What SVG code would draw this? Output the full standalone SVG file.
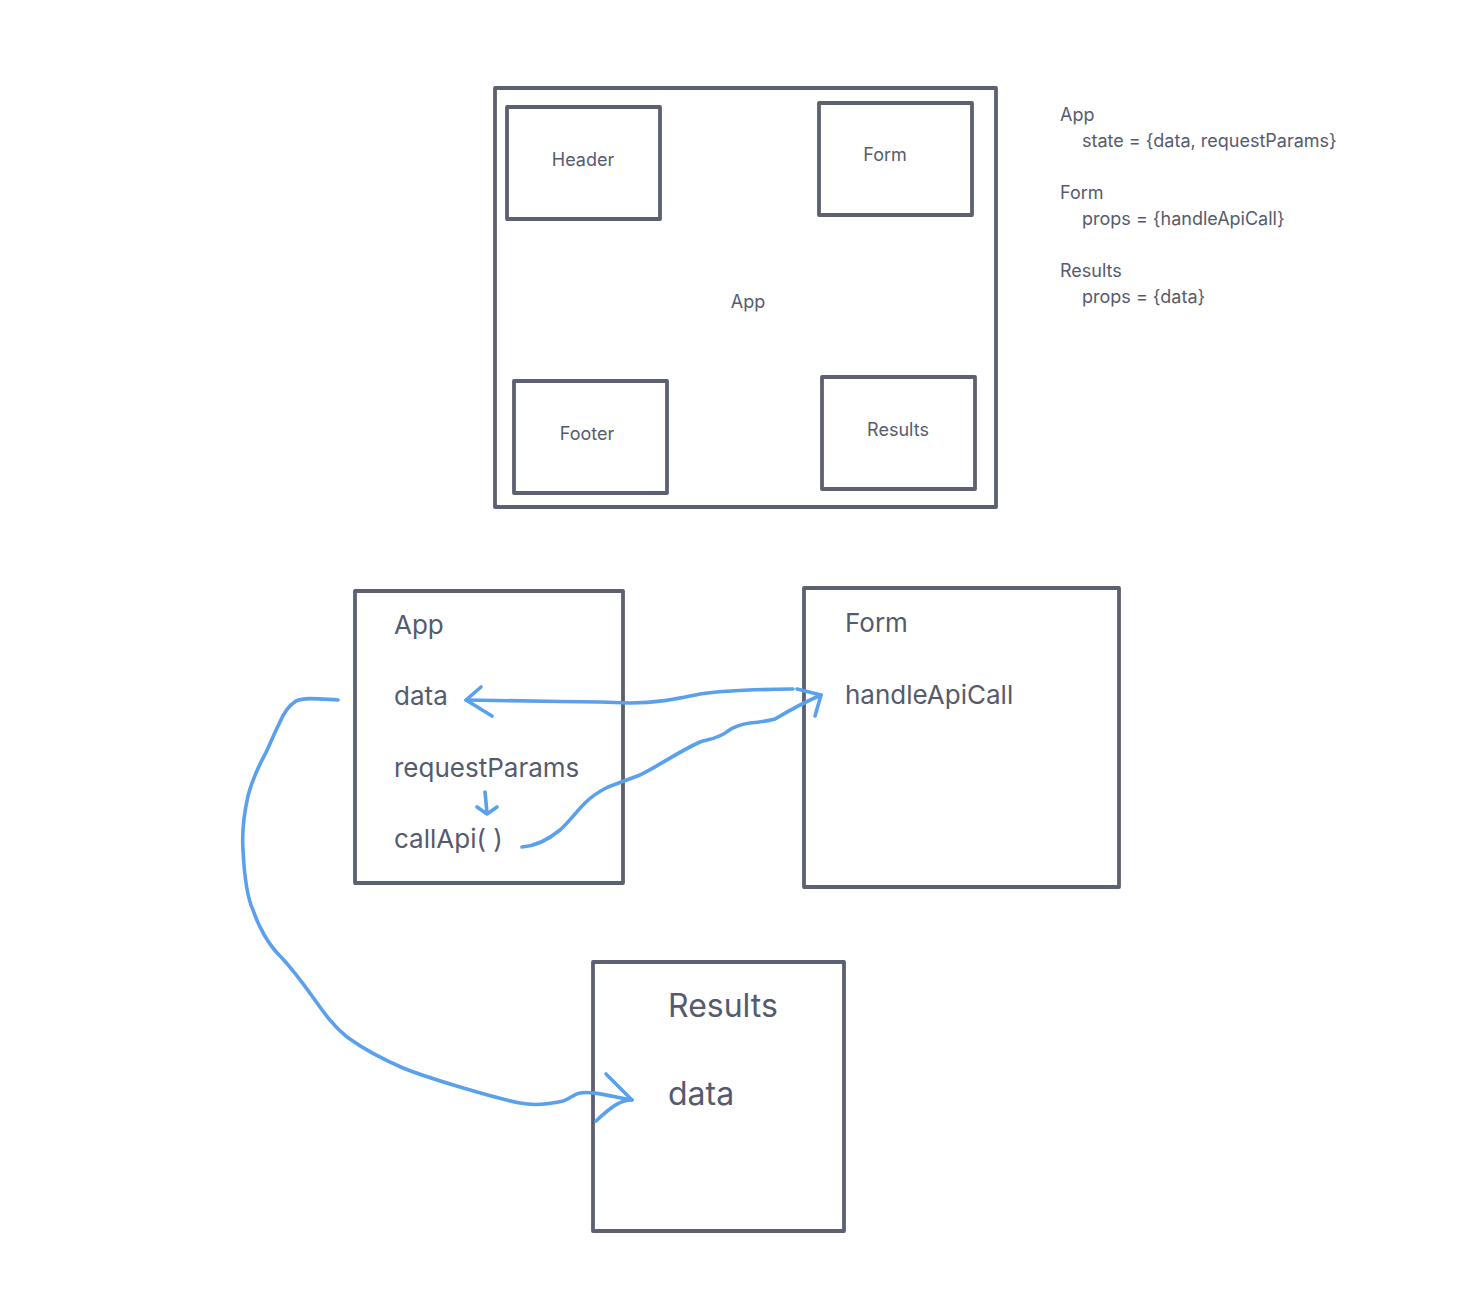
<svg xmlns="http://www.w3.org/2000/svg" width="1476" height="1306" viewBox="0 0 1476 1306">
  <style>
    .box { fill: none; stroke: #5c6070; stroke-width: 3.8; stroke-linejoin: round; }
    .t { font-family: Inter, "Liberation Sans", sans-serif; fill: #555b6e; }
    .sm { font-size: 18px; }
    .md { font-size: 26px; }
    .lg { font-size: 32px; }
    .ink { fill: none; stroke: #5aa0ec; stroke-width: 3.6; stroke-linecap: round; stroke-linejoin: round; }
  </style>
  <rect width="1476" height="1306" fill="#ffffff"/>

  <!-- Top layout: App with its children -->
  <g id="layout-app">
    <rect class="box" x="495" y="88" width="501" height="419"/>
    <text class="t sm" x="748" y="308" text-anchor="middle">App</text>
  </g>
  <g id="layout-header">
    <rect class="box" x="507" y="107" width="153" height="112"/>
    <text class="t sm" x="583" y="166" text-anchor="middle">Header</text>
  </g>
  <g id="layout-form">
    <rect class="box" x="819" y="103" width="153" height="112"/>
    <text class="t sm" x="885" y="161" text-anchor="middle">Form</text>
  </g>
  <g id="layout-footer">
    <rect class="box" x="514" y="381" width="153" height="112"/>
    <text class="t sm" x="587" y="440" text-anchor="middle">Footer</text>
  </g>
  <g id="layout-results">
    <rect class="box" x="822" y="377" width="153" height="112"/>
    <text class="t sm" x="898" y="436" text-anchor="middle">Results</text>
  </g>

  <!-- State / props notes -->
  <g id="notes" class="t sm">
    <text x="1060" y="121">App</text>
    <text x="1082" y="147">state = {data, requestParams}</text>
    <text x="1060" y="199">Form</text>
    <text x="1082" y="225">props = {handleApiCall}</text>
    <text x="1060" y="277">Results</text>
    <text x="1082" y="303">props = {data}</text>
  </g>

  <!-- Data flow components -->
  <g id="flow-app">
    <rect class="box" x="355" y="591" width="268" height="292"/>
    <text class="t md" x="394" y="634">App</text>
    <text class="t md" x="394" y="705">data</text>
    <text class="t md" x="394" y="777">requestParams</text>
    <text class="t md" x="394" y="848">callApi( )</text>
  </g>
  <g id="flow-form">
    <rect class="box" x="804" y="588" width="315" height="299"/>
    <text class="t md" x="845" y="632">Form</text>
    <text class="t md" x="845" y="704">handleApiCall</text>
  </g>
  <g id="flow-results">
    <rect class="box" x="593" y="962" width="251" height="269"/>
    <text class="t lg" x="668" y="1017">Results</text>
    <text class="t lg" x="668" y="1105">data</text>
  </g>

  <!-- Hand-drawn connectors -->
  <g id="connectors">
    <!-- data <-> handleApiCall -->
    <path class="ink" d="M466 700 L560 701.5 L600 702 L630 703 C660 703 680 698 700 694 C720 691 745 689.5 793 689"/>
    <path class="ink" d="M481 687 L466 700 L492 716"/>
    <path class="ink" d="M797 689 L821 695 L815 716"/>
    <!-- callApi -> handleApiCall -->
    <path class="ink" d="M522 847 C535 846 548 840 560 830 C570 821 575 813 585 803 C592 796 598 792 608 787 L640 775 C660 765 678 752 700 742 C710 739 720 738 728 731 C735 726 742 724 750 723 C760 722 768 721 775 719 C790 710 805 702 821 695"/>
    <!-- requestParams -> callApi -->
    <path class="ink" d="M485 792 L487 813"/>
    <path class="ink" d="M477 807 L487 814 L497 807"/>
    <!-- data -> Results.data -->
    <path class="ink" d="M338 700 C320 699 305 697 296 701 C288 706 283 714 279 724 C272 738 268 750 262 760 C256 772 251 784 248 796 C243 818 242 835 243 850 C244 870 246 895 253 910 C258 925 268 945 282 958 C293 970 302 982 312 996 C322 1010 332 1025 347 1037 C362 1048 380 1058 403 1068 C420 1075 440 1081 460 1087 C480 1093 500 1099 520 1103 C535 1106 550 1104 563 1101 C570 1099 574 1094 580 1093 C590 1091 605 1095 632 1100"/>
    <path class="ink" d="M606 1074 L632 1100 C622 1100 614 1104 596 1121"/>
  </g>
</svg>
